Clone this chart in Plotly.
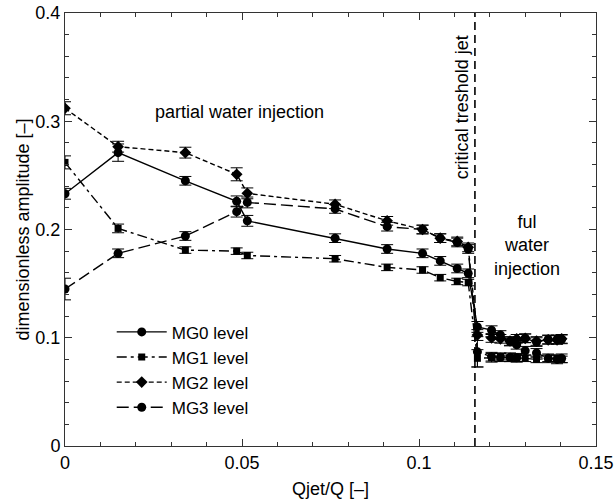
import plotly.graph_objects as go

# Jet-to-main flow ratio at each measurement point
qjet_ratio = [0.0, 0.015, 0.034, 0.0485, 0.0515, 0.0763, 0.091, 0.101, 0.106, 0.1108, 0.1139,
              0.1165, 0.1205, 0.123, 0.1257, 0.1276, 0.130, 0.1332, 0.1365, 0.139, 0.1403]

# Dimensionless pressure amplitude per measurement level
mg0 = [0.233, 0.271, 0.245, 0.226, 0.208, 0.192, 0.182, 0.178, 0.171, 0.164, 0.1595,
       0.110, 0.107, 0.1025, 0.0965, 0.0935, 0.0995, 0.096, 0.0985, 0.0985, 0.0985]
mg1 = [0.262, 0.201, 0.181, 0.180, 0.176, 0.173, 0.165, 0.1626, 0.1555, 0.152, 0.151,
       0.081, 0.0815, 0.0825, 0.081, 0.081, 0.081, 0.080, 0.081, 0.081, 0.080]
mg2 = [0.312, 0.2765, 0.271, 0.251, 0.2334, 0.2233, 0.208, 0.200, 0.192, 0.189, 0.1835,
       0.1025, 0.0998, 0.099, 0.097, 0.099, 0.0995, 0.097, 0.098, 0.098, 0.099]
mg3 = [0.145, 0.178, 0.194, 0.2165, 0.225, 0.219, 0.2026, 0.200, 0.192, 0.188, 0.182,
       0.087, 0.0825, 0.082, 0.082, 0.0815, 0.088, 0.086, 0.081, 0.080, 0.081]

# Measurement uncertainty (half-width of error bars)
err_mg0 = [0.005, 0.008, 0.004, 0.005, 0.005, 0.004, 0.004, 0.004, 0.004, 0.004, 0.004,
           0.005, 0.004, 0.004, 0.004, 0.004, 0.004, 0.004, 0.004, 0.004, 0.004]
err_mg1 = [0.006, 0.004, 0.003, 0.003, 0.003, 0.003, 0.003, 0.003, 0.003, 0.003, 0.003,
           0.008, 0.004, 0.003, 0.003, 0.003, 0.003, 0.003, 0.003, 0.003, 0.003]
err_mg2 = [0.006, 0.005, 0.005, 0.006, 0.005, 0.004, 0.004, 0.004, 0.004, 0.004, 0.004,
           0.005, 0.004, 0.004, 0.004, 0.004, 0.004, 0.004, 0.004, 0.004, 0.004]
err_mg3 = [0.010, 0.004, 0.004, 0.005, 0.005, 0.004, 0.004, 0.004, 0.004, 0.004, 0.004,
           0.014, 0.004, 0.004, 0.004, 0.004, 0.004, 0.004, 0.004, 0.004, 0.004]

critical_ratio = 0.1158

series = [
    ("MG0 level", mg0, err_mg0, "solid", "circle", 9),
    ("MG1 level", mg1, err_mg1, "10px,4px,3px,4px", "square", 7),
    ("MG2 level", mg2, err_mg2, "5px,3px", "diamond", 9),
    ("MG3 level", mg3, err_mg3, "12px,5px", "circle", 9),
]

FONT = "Liberation Sans, Arial, Helvetica, sans-serif"
TXT = dict(family=FONT, size=18, color="black")

fig = go.Figure()
for name, vals, errs, dash, symbol, size in series:
    fig.add_trace(go.Scatter(
        x=qjet_ratio, y=vals, name=name, mode="lines+markers",
        line=dict(color="black", width=1.4, dash=dash),
        marker=dict(color="black", symbol=symbol, size=size),
        error_y=dict(type="data", array=errs, visible=True,
                     color="black", thickness=1, width=6),
    ))

# Critical threshold of the jet
fig.add_shape(type="line", x0=critical_ratio, x1=critical_ratio, y0=0, y1=0.4,
              xref="x", yref="y", line=dict(color="black", width=1.6, dash="8px,5px"))

fig.add_annotation(x=0.0494, y=0.309, text="partial water injection", showarrow=False, font=TXT)
fig.add_annotation(x=0.1122, y=0.313, text="critical treshold jet", showarrow=False,
                   textangle=-90, font=TXT)
fig.add_annotation(x=0.1305, y=0.185, text="ful<br>water<br>injection", showarrow=False,
                   font=TXT)

axis_common = dict(
    showline=True, linecolor="#333", linewidth=1, mirror="allticks", automargin=False,
    ticks="inside", ticklen=7, tickcolor="#333", showgrid=False, zeroline=False,
    tickfont=TXT,
)

fig.update_xaxes(
    range=[0, 0.15], tickvals=[0, 0.05, 0.1, 0.15], ticktext=["0", "0.05", "0.1", "0.15"],
    minor=dict(dtick=0.01, ticks="inside", ticklen=4, tickcolor="#333"),
    title=dict(text="Qjet/Q [–]", font=TXT, standoff=10),
    **axis_common,
)
fig.update_yaxes(
    range=[0, 0.4], tickvals=[0, 0.1, 0.2, 0.3, 0.4], ticktext=["0", "0.1", "0.2", "0.3", "0.4"],
    minor=dict(dtick=0.02, ticks="inside", ticklen=4, tickcolor="#333"),
    title=dict(text="dimensionless amplitude [–]", font=TXT, standoff=1),
    **axis_common,
)

fig.update_layout(
    width=615, height=502,
    margin=dict(l=65, r=19, t=13, b=56),
    paper_bgcolor="white", plot_bgcolor="white",
    font=TXT,
    legend=dict(x=0.088, y=0.304, xanchor="left", yanchor="top",
                bgcolor="rgba(0,0,0,0)", font=dict(family=FONT, size=17, color="black"),
                itemwidth=50, tracegroupgap=0),
)

fig.write_html("out.html")
